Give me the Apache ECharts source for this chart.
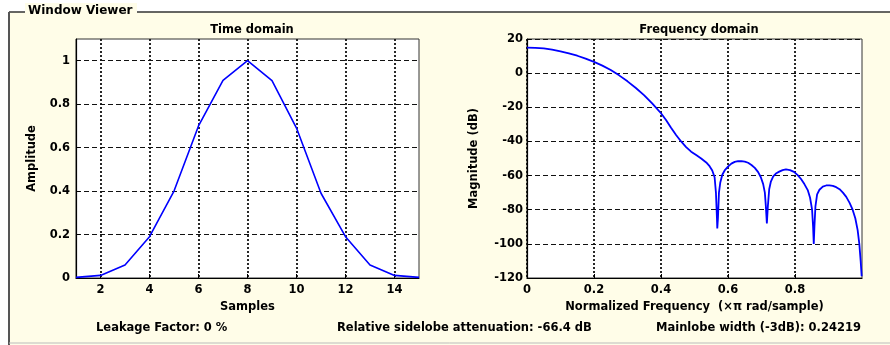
<!DOCTYPE html>
<html><head><meta charset="utf-8">
<script src="https://cdn.jsdelivr.net/npm/echarts@6/dist/echarts.min.js"></script>
<style>html,body{margin:0;padding:0;background:#fff;}#c{width:890px;height:345px;}</style>
</head><body><div id="c"></div>
<script>
// ---- Time domain data ----
const samples   = [1, 2, 3, 4, 5, 6, 7, 8, 9, 10, 11, 12, 13, 14, 15];
const amplitude = [0.003, 0.012, 0.06, 0.19, 0.40, 0.70, 0.91, 1.0, 0.908, 0.69, 0.39, 0.19, 0.06, 0.012, 0.003];
const timeXTicks = [2, 4, 6, 8, 10, 12, 14];
const timeYTicks = [0, 0.2, 0.4, 0.6, 0.8, 1];

// ---- Frequency domain data ----
const freqX = [0, 0.025, 0.05, 0.075, 0.1, 0.125, 0.15, 0.175, 0.2, 0.225, 0.25, 0.275, 0.3, 0.325, 0.35,
  0.375, 0.4, 0.415, 0.43, 0.445, 0.46, 0.475, 0.49, 0.505, 0.52, 0.535, 0.545, 0.553, 0.56, 0.564,
  0.567, 0.568, 0.57, 0.573, 0.577, 0.583, 0.59, 0.6, 0.61, 0.62, 0.63, 0.64, 0.65, 0.66, 0.67,
  0.68, 0.69, 0.698, 0.705, 0.71, 0.713, 0.716, 0.719, 0.723, 0.728, 0.735, 0.743, 0.753, 0.763, 0.773,
  0.785, 0.797, 0.808, 0.818, 0.828, 0.838, 0.845, 0.851, 0.854, 0.856, 0.858, 0.861, 0.866, 0.873, 0.883,
  0.893, 0.903, 0.913, 0.923, 0.933, 0.943, 0.953, 0.963, 0.972, 0.98, 0.987, 0.992, 0.996, 0.999];
const magnitudeDb = [14.9, 14.8, 14.5, 13.8, 12.8, 11.6, 10.2, 8.5, 6.6, 4.4, 1.8, -1.3, -4.8, -8.7, -13,
  -18, -23.5, -27.5, -32, -36.2, -40, -43.3, -46, -48, -50, -52.3, -54.5, -57, -61, -70,
  -85, -91, -85, -70, -64, -59.5, -57, -54.8, -53, -52, -51.6, -51.5, -51.8, -52.5, -53.8,
  -55.5, -58, -61, -65, -70, -78, -88, -78, -68, -63.5, -60.5, -58.8, -57.7, -56.8, -56.4,
  -56.8, -57.8, -59.7, -62, -65, -68.5, -73, -80, -90, -100, -90, -78, -71, -68.3, -66.5,
  -65.8, -65.7, -66, -66.8, -68, -70, -72.5, -76, -80, -85, -92, -100, -110, -119];
const freqXTicks = [0, 0.2, 0.4, 0.6, 0.8];
const freqYTicks = [-120, -100, -80, -60, -40, -20, 0, 20];

const bottomTexts = ['Leakage Factor: 0 %', 'Relative sidelobe attenuation: -66.4 dB', 'Mainlobe width (-3dB): 0.24219'];
const panelTitle = 'Window Viewer';

const FONT = 'DejaVu Sans';
const cream = '#FFFDE8';
const lblStyle = {color: '#000', fontFamily: FONT, fontWeight: 'bold', fontSize: 11.5};

function fmt(v){ return String(Math.round(v*1000)/1000); }

const chart = echarts.init(document.getElementById('c'), null, {renderer: 'canvas'});
const vGrid = {show: true, lineStyle: {color: '#111', width: 1.8, type: [2, 2]}};
const hGrid = {show: true, lineStyle: {color: '#111', width: 1.2, type: [5, 3]}};

chart.setOption({
  backgroundColor: cream,
  animation: false,
  title: [
    {text: 'Time domain', left: 247, top: 19, textAlign: 'center', textStyle: lblStyle},
    {text: 'Frequency domain', left: 694, top: 19, textAlign: 'center', textStyle: lblStyle}
  ],
  grid: [
    {left: 76, top: 39, width: 343, height: 239, show: true, backgroundColor: '#fff', borderColor: '#333', borderWidth: 1},
    {left: 527, top: 39, width: 335, height: 239, show: true, backgroundColor: '#fff', borderColor: '#333', borderWidth: 1}
  ],
  xAxis: [
    {type: 'value', gridIndex: 0, min: 1, max: 15,
     name: 'Samples', nameLocation: 'middle', nameGap: 21, nameTextStyle: lblStyle,
     axisLine: {show: true, onZero: false, lineStyle: {color: '#000', width: 1.2}},
     axisTick: {show: true, inside: true, length: 4, customValues: timeXTicks, lineStyle: {color: '#000'}},
     axisLabel: Object.assign({customValues: timeXTicks, margin: 6, formatter: fmt}, lblStyle),
     splitLine: vGrid},
    {type: 'value', gridIndex: 1, min: 0, max: 1,
     name: 'Normalized Frequency  (\u00d7\u03c0 rad/sample)', nameLocation: 'middle', nameGap: 21, nameTextStyle: lblStyle,
     axisLine: {show: true, onZero: false, lineStyle: {color: '#000', width: 1.2}},
     axisTick: {show: true, inside: true, length: 4, customValues: freqXTicks, lineStyle: {color: '#000'}},
     axisLabel: Object.assign({customValues: freqXTicks, margin: 6, formatter: fmt}, lblStyle),
     splitLine: vGrid}
  ],
  yAxis: [
    {type: 'value', gridIndex: 0, min: 0, max: 1.1,
     name: 'Amplitude', nameLocation: 'middle', nameGap: 38, nameRotate: 90, nameTextStyle: lblStyle,
     axisLine: {show: true, onZero: false, lineStyle: {color: '#000', width: 1.2}},
     axisTick: {show: true, inside: true, length: 4, customValues: timeYTicks, lineStyle: {color: '#000'}},
     axisLabel: Object.assign({customValues: timeYTicks, margin: 6, formatter: fmt}, lblStyle),
     splitLine: hGrid},
    {type: 'value', gridIndex: 1, min: -120, max: 20,
     name: 'Magnitude (dB)', nameLocation: 'middle', nameGap: 47, nameRotate: 90, nameTextStyle: lblStyle,
     axisLine: {show: true, onZero: false, lineStyle: {color: '#000', width: 1.2}},
     axisTick: {show: true, inside: true, length: 4, customValues: freqYTicks, lineStyle: {color: '#000'}},
     axisLabel: Object.assign({customValues: freqYTicks, margin: 4, formatter: fmt}, lblStyle),
     splitLine: hGrid}
  ],
  series: [
    {type: 'line', xAxisIndex: 0, yAxisIndex: 0, showSymbol: false, symbol: 'none',
     data: samples.map((s, i) => [s, amplitude[i]]),
     lineStyle: {color: '#0000FF', width: 1.6}, z: 5},
    {type: 'line', xAxisIndex: 1, yAxisIndex: 1, showSymbol: false, symbol: 'none',
     data: freqX.map((f, i) => [f, magnitudeDb[i]]),
     lineStyle: {color: '#0000FF', width: 1.8}, z: 5}
  ],
  graphic: [
    {type: 'rect', silent: true, z: -50, shape: {x: 0, y: 0, width: 890, height: 12}, style: {fill: '#fff'}},
    {type: 'rect', silent: true, z: -50, shape: {x: 0, y: 0, width: 9, height: 345}, style: {fill: '#fff'}},
    {type: 'line', silent: true, z: -40, shape: {x1: 9, y1: 12, x2: 890, y2: 12}, style: {stroke: '#333', lineWidth: 1.5}},
    {type: 'line', silent: true, z: -40, shape: {x1: 9, y1: 12, x2: 9, y2: 345}, style: {stroke: '#555', lineWidth: 2}},
    {type: 'line', silent: true, z: -40, shape: {x1: 9, y1: 343, x2: 890, y2: 343}, style: {stroke: '#bbb', lineWidth: 1}},
    {type: 'rect', silent: true, z: -30, shape: {x: 25, y: 3, width: 112, height: 17}, style: {fill: cream}},
    {type: 'text', silent: true, z: -20, x: 28, y: 11,
     style: {text: panelTitle, fill: '#000', font: 'bold 12px "' + FONT + '"', verticalAlign: 'middle', align: 'left'}},
    {type: 'text', silent: true, x: 96, y: 328,
     style: {text: bottomTexts[0], fill: '#000', font: 'bold 11.5px "' + FONT + '"', verticalAlign: 'middle', align: 'left'}},
    {type: 'text', silent: true, x: 337, y: 328,
     style: {text: bottomTexts[1], fill: '#000', font: 'bold 11.5px "' + FONT + '"', verticalAlign: 'middle', align: 'left'}},
    {type: 'text', silent: true, x: 656, y: 328,
     style: {text: bottomTexts[2], fill: '#000', font: 'bold 11.5px "' + FONT + '"', verticalAlign: 'middle', align: 'left'}}
  ]
});
</script>
</body></html>
